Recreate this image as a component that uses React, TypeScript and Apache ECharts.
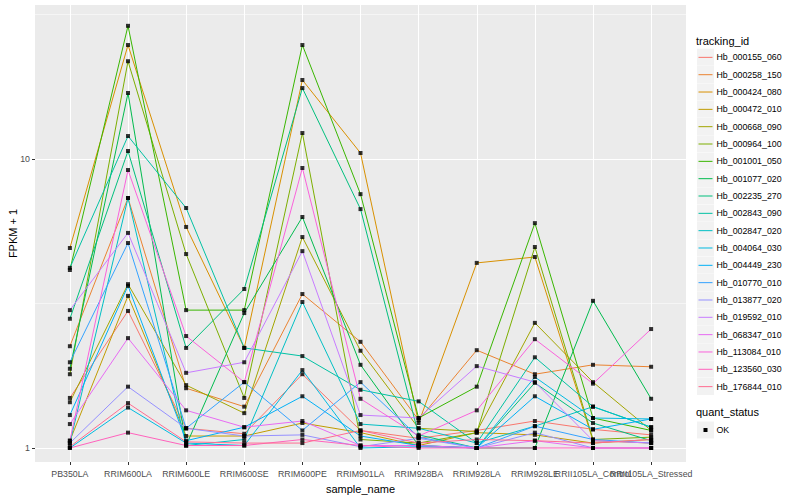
import React, { useEffect, useRef } from "react";
import * as echarts from "echarts";

const categories = [
  "PB350LA", "RRIM600LA", "RRIM600LE", "RRIM600SE", "RRIM600PE", "RRIM901LA",
  "RRIM928BA", "RRIM928LA", "RRIM928LE", "RRII105LA_Control", "RRII105LA_Stressed",
];

const trackingIds = [
  "Hb_000155_060", "Hb_000258_150", "Hb_000424_080", "Hb_000472_010", "Hb_000668_090",
  "Hb_000964_100", "Hb_001001_050", "Hb_001077_020", "Hb_002235_270", "Hb_002843_090",
  "Hb_002847_020", "Hb_004064_030", "Hb_004449_230", "Hb_010770_010", "Hb_013877_020",
  "Hb_019592_010", "Hb_068347_010", "Hb_113084_010", "Hb_123560_030", "Hb_176844_010",
];

const palette = [
  "#F8766D", "#EA8331", "#D89000", "#C09B00", "#A3A500", "#7CAE00", "#39B600", "#00BB4E",
  "#00BF7D", "#00C1A3", "#00BFC4", "#00BAE0", "#00B0F6", "#35A2FF", "#9590FF", "#C77CFF",
  "#E76BF3", "#FA62DB", "#FF62BC", "#FF6C91",
];

// FPKM + 1 per sample, one array per tracking_id
const hb000155_060 = [1.49, 2.98, 1.17, 1.12, 1.80, 1.15, 1.08, 1.15, 1.24, 1.16, 1.11];
const hb000258_150 = [2.25, 7.33, 1.61, 1.39, 3.41, 2.33, 1.25, 2.18, 1.80, 1.94, 1.91];
const hb000424_080 = [4.92, 24.8, 5.82, 2.22, 18.77, 10.49, 1.22, 4.37, 4.58, 1.06, 1.04];
const hb000472_010 = [1.06, 3.36, 1.10, 1.10, 1.22, 1.13, 1.02, 1.13, 1.11, 1.04, 1.07];
const hb000668_090 = [1.44, 3.69, 1.65, 1.32, 5.37, 2.17, 1.17, 1.14, 2.71, 1.69, 1.15];
const hb000964_100 = [1.80, 21.8, 4.69, 1.49, 12.3, 1.07, 1.04, 1.13, 4.96, 1.07, 1.09];
const hb001001_050 = [4.13, 28.9, 3.00, 3.00, 24.8, 7.56, 1.27, 1.63, 6.00, 1.27, 1.15];
const hb001077_020 = [1.88, 16.92, 1.02, 2.93, 6.30, 1.94, 1.02, 1.00, 1.00, 3.23, 1.48];
const hb002235_270 = [2.80, 10.66, 2.22, 3.55, 17.6, 6.71, 1.11, 1.00, 1.68, 1.22, 1.06];
const hb002843_090 = [4.20, 12.01, 6.77, 2.22, 2.08, 1.59, 1.45, 1.04, 2.06, 1.39, 1.18];
const hb002847_020 = [1.04, 7.33, 1.02, 1.07, 3.20, 1.21, 1.17, 1.04, 1.19, 1.39, 1.18];
const hb004064_030 = [1.00, 1.38, 1.04, 1.02, 1.86, 1.00, 1.01, 1.00, 1.76, 1.27, 1.26];
const hb004449_230 = [1.30, 3.64, 1.06, 1.18, 1.51, 1.10, 1.02, 1.00, 1.51, 1.16, 1.26];
const hb010770_010 = [1.98, 5.12, 1.17, 1.69, 1.15, 1.69, 1.09, 1.00, 1.19, 1.07, 1.04];
const hb013877_020 = [1.04, 1.63, 1.17, 1.10, 1.11, 1.01, 1.08, 1.00, 1.13, 1.00, 1.00];
const hb019592_010 = [3.00, 5.55, 1.82, 1.98, 4.80, 1.30, 1.27, 1.92, 1.69, 1.06, 1.04];
const hb068347_010 = [1.21, 2.40, 1.35, 1.18, 1.24, 1.02, 1.02, 1.00, 1.06, 1.00, 1.00];
const hb113084_010 = [1.06, 9.16, 2.44, 1.69, 9.31, 1.48, 1.10, 1.35, 2.38, 1.67, 2.58];
const hb123560_030 = [1.00, 1.13, 1.02, 1.02, 1.07, 1.02, 1.00, 1.00, 1.00, 1.00, 1.00];
const hb176844_010 = [1.01, 1.43, 1.05, 1.04, 1.04, 1.15, 1.04, 1.07, 1.06, 1.04, 1.07];

const seriesValues = [
  hb000155_060, hb000258_150, hb000424_080, hb000472_010, hb000668_090,
  hb000964_100, hb001001_050, hb001077_020, hb002235_270, hb002843_090,
  hb002847_020, hb004064_030, hb004449_230, hb010770_010, hb013877_020,
  hb019592_010, hb068347_010, hb113084_010, hb123560_030, hb176844_010,
];

const yMajorTicks = [1, 10];
const yMinorGrid = [Math.sqrt(10), Math.pow(10, 1.5)];
const quantStatus = ["OK"];

const FONT = "'Liberation Sans', Arial, Helvetica, sans-serif";

export default function App() {
  const ref = useRef<HTMLDivElement>(null);

  useEffect(() => {
    if (!ref.current) return;
    const chart = echarts.init(ref.current, undefined, { renderer: "svg" });

    const lineSeries = seriesValues.map((vals, i) => ({
      name: trackingIds[i],
      type: "line",
      xAxisIndex: 0,
      yAxisIndex: 0,
      showSymbol: false,
      symbol: "none",
      silent: true,
      color: palette[i],
      lineStyle: { color: palette[i], width: 1 },
      data: vals.map((v, j) => [j, Math.log10(v)]),
      z: 2,
    }));

    const allPoints: number[][] = [];
    seriesValues.forEach((vals) => vals.forEach((v, j) => allPoints.push([j, Math.log10(v)])));

    const pointSeries = {
      name: quantStatus[0],
      type: "scatter",
      xAxisIndex: 0,
      yAxisIndex: 0,
      symbol: "rect",
      symbolSize: 4,
      silent: true,
      itemStyle: { color: "#000000" },
      data: allPoints,
      z: 3,
    };

    // legend (drawn as graphic elements)
    const lx = 697;
    const keyTop = 48.7;
    const keyStep = 17.33;
    const els: any[] = [];
    els.push({
      type: "text",
      style: { x: 696, y: 40.5, text: "tracking_id", fontSize: 11, fill: "#000", fontFamily: FONT, verticalAlign: "middle" },
    });
    trackingIds.forEach((id, i) => {
      const top = keyTop + keyStep * i;
      const c = top + keyStep / 2;
      els.push({ type: "rect", shape: { x: lx, y: top, width: 17, height: 17 }, style: { fill: "#F2F2F2" } });
      els.push({
        type: "line",
        shape: { x1: lx + 1.5, y1: c, x2: lx + 15.5, y2: c },
        style: { stroke: palette[i], lineWidth: 1 },
      });
      els.push({
        type: "text",
        style: { x: 716.5, y: c, text: id, fontSize: 8.8, fill: "#000", fontFamily: FONT, verticalAlign: "middle" },
      });
    });
    els.push({
      type: "text",
      style: { x: 696, y: 412.3, text: "quant_status", fontSize: 11, fill: "#000", fontFamily: FONT, verticalAlign: "middle" },
    });
    els.push({ type: "rect", shape: { x: lx, y: 421.5, width: 17, height: 17 }, style: { fill: "#F2F2F2" } });
    els.push({ type: "rect", shape: { x: lx + 6.5, y: 428, width: 4, height: 4 }, style: { fill: "#000" } });
    els.push({
      type: "text",
      style: { x: 716.5, y: 430, text: quantStatus[0], fontSize: 8.8, fill: "#000", fontFamily: FONT, verticalAlign: "middle" },
    });

    const yMin = -0.0485;
    const yMax = 1.533;
    const allIdx = categories.map((_, i) => i);
    const evenIdx = allIdx.filter((i) => i % 2 === 0);
    const oddIdx = allIdx.filter((i) => i % 2 === 1);

    const xLabel = (customValues: number[]) => ({
      show: true,
      customValues,
      formatter: (v: number) => categories[Math.round(v)] ?? "",
      fontSize: 8.8,
      color: "#4D4D4D",
      margin: 7,
      hideOverlap: false,
      fontFamily: FONT,
    });

    chart.setOption({
      animation: false,
      backgroundColor: "#FFFFFF",
      textStyle: { fontFamily: FONT },
      grid: {
        left: 35,
        top: 5,
        width: 651,
        height: 457,
        show: true,
        backgroundColor: "#EBEBEB",
        borderWidth: 0,
        borderColor: "transparent",
        containLabel: false,
        outerBoundsMode: "none",
      },
      xAxis: [
        {
          type: "value",
          position: "bottom",
          min: -0.6,
          max: 10.6,
          name: "sample_name",
          nameLocation: "middle",
          nameGap: 21,
          nameMoveOverlap: false,
          nameTextStyle: { fontSize: 11, color: "#000", fontFamily: FONT },
          axisLine: { show: false, onZero: false },
          axisTick: { show: true, length: 3, customValues: allIdx, lineStyle: { color: "#333333", width: 1 } },
          axisLabel: xLabel(evenIdx),
          splitLine: { show: true, lineStyle: { color: "#FFFFFF", width: 1 } },
        },
        {
          type: "value",
          position: "bottom",
          offset: 0,
          min: -0.6,
          max: 10.6,
          axisLine: { show: false, onZero: false },
          axisTick: { show: false, customValues: oddIdx },
          axisLabel: xLabel(oddIdx),
          splitLine: { show: false },
        },
      ],
      yAxis: [
        {
          type: "value",
          position: "left",
          min: yMin,
          max: yMax,
          name: "FPKM + 1",
          nameLocation: "middle",
          nameGap: 17,
          nameMoveOverlap: false,
          nameRotate: 90,
          nameTextStyle: { fontSize: 11, color: "#000", fontFamily: FONT },
          axisLine: { show: false, onZero: false },
          axisTick: { show: true, length: 3, customValues: yMajorTicks.map((v) => Math.log10(v)), lineStyle: { color: "#333333", width: 1 } },
          axisLabel: {
            show: true,
            customValues: yMajorTicks.map((v) => Math.log10(v)),
            formatter: (v: number) => String(Math.round(Math.pow(10, v))),
            fontSize: 8.8,
            color: "#4D4D4D",
            margin: 5,
            hideOverlap: false,
            fontFamily: FONT,
          },
          splitLine: { show: true, lineStyle: { color: "#FFFFFF", width: 1 } },
        },
        {
          type: "value",
          min: yMin,
          max: yMax,
          position: "right",
          axisLine: { show: false, onZero: false },
          axisTick: { show: false, customValues: yMinorGrid.map((v) => Math.log10(v)) },
          axisLabel: { show: false },
          splitLine: { show: true, lineStyle: { color: "#FFFFFF", width: 0.5 } },
        },
      ],
      graphic: { elements: els },
      series: [...lineSeries, pointSeries],
    });

    return () => chart.dispose();
  }, []);

  return <div ref={ref} style={{ position: "fixed", left: 0, top: 0, width: 800, height: 500 }} />;
}
